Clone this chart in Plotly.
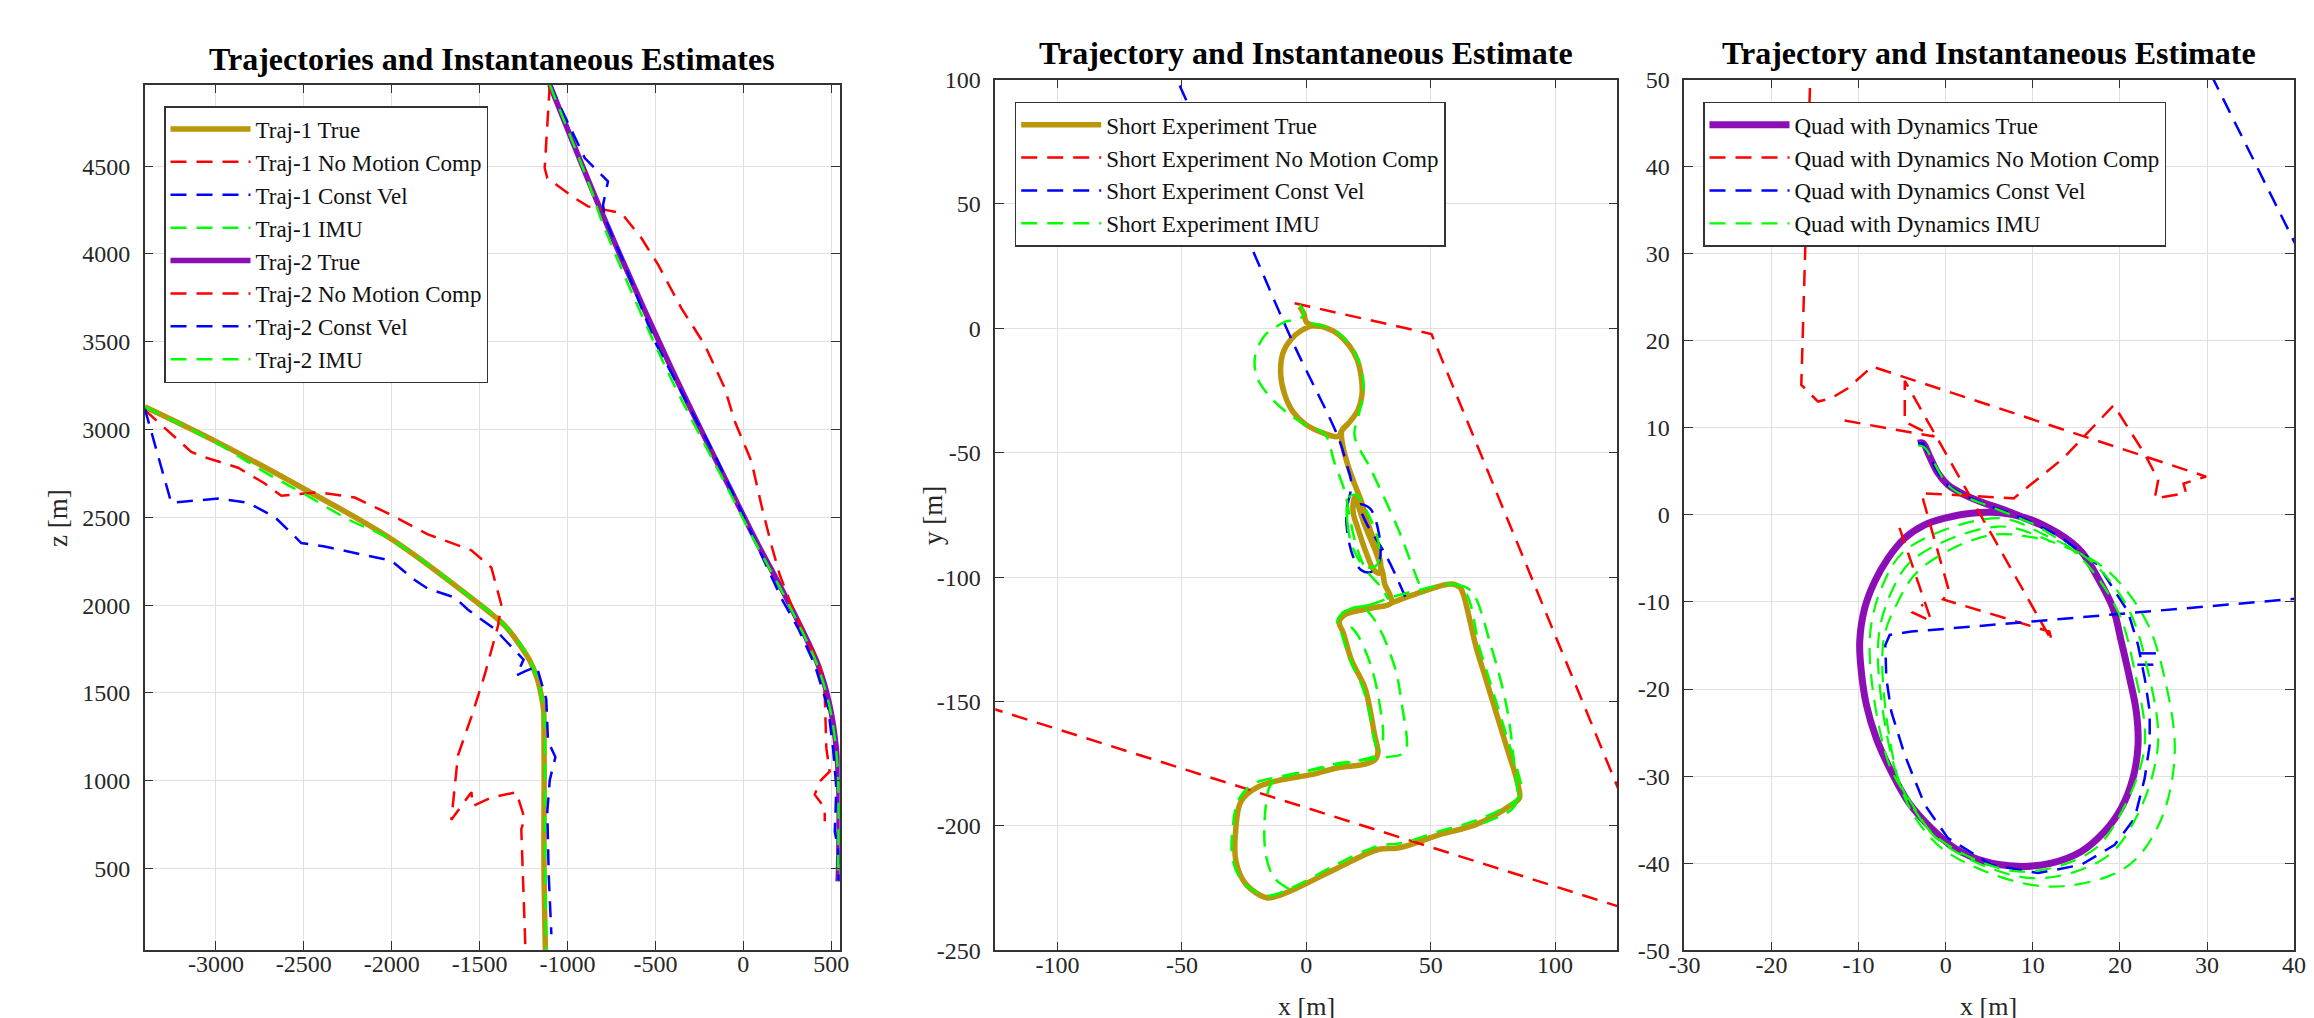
import plotly.graph_objects as go

W, H = 2314, 1018
FONT = "Liberation Serif"

# ---------------- DATA ----------------
# Panel 1 : Trajectories (x, z) in metres
T1_TRUE_X = [-3405, -3001, -2500, -1998, -1499, -1420, -1357, -1290, -1215, -1175, -1149, -1136, -1134, -1133, -1134, -1126]
T1_TRUE_Z = [3130, 2933, 2663, 2374, 2004, 1940, 1884, 1800, 1685, 1590, 1485, 1400, 1325, 1000, 526, 37]
T1_NOMC_X = [-3405, -3140, -3064, -2874, -2722, -2628, -2419, -2210, -2021, -1794, -1547, -1433, -1377, -1395, -1471, -1547, -1623, -1661, -1547, -1538, -1433, -1291, -1244, -1263, -1240]
T1_NOMC_Z = [3112, 2873, 2843, 2783, 2693, 2623, 2643, 2613, 2523, 2403, 2313, 2214, 2004, 1884, 1604, 1364, 1145, 778, 935, 857, 905, 935, 785, 725, 60]
T1_CV_X = [-3405, -3254, -2988, -2817, -2666, -2514, -2381, -2002, -1869, -1794, -1642, -1566, -1414, -1338, -1250, -1290, -1240, -1175, -1121, -1111, -1069, -1101, -1115, -1107, -1092]
T1_CV_Z = [3122, 2583, 2607, 2583, 2503, 2354, 2334, 2253, 2143, 2094, 2044, 1974, 1864, 1784, 1690, 1600, 1625, 1650, 1465, 1225, 1135, 1005, 825, 463, 126]
T1_IMU_X = [-3405, -3000, -2700, -2500, -2250, -2000, -1499, -1357, -1215, -1149, -1131, -1129, -1128, -1120]
T1_IMU_Z = [3130, 2925, 2745, 2635, 2490, 2372, 2004, 1884, 1690, 1490, 1325, 1000, 526, 40]

T2_TRUE_X = [-1101, -790, -410, -77, 84, 216, 330, 425, 491, 529, 543, 543, 539]
T2_TRUE_Z = [4964, 4200, 3350, 2667, 2344, 2097, 1870, 1661, 1433, 1186, 958, 580, 428]
T2_NOMC_X = [-1101, -1130, -1115, -959, -884, -694, -580, -485, -353, -220, -106, -49, 46, 102, 159, 207, 273, 349, 435, 463, 472, 491, 435, 406, 463, 463]
T2_NOMC_Z = [4964, 4490, 4432, 4318, 4271, 4233, 4091, 3939, 3692, 3483, 3236, 3047, 2819, 2572, 2344, 2173, 2002, 1831, 1661, 1490, 1186, 1053, 997, 921, 845, 769]
T2_CV_X = [-1101, -902, -770, -798, -788, -675, -504, -333, -163, -11, 122, 216, 311, 406, 482, 510, 529, 520, 539, 543]
T2_CV_Z = [4964, 4546, 4413, 4280, 4204, 3939, 3502, 3179, 2856, 2534, 2249, 2040, 1870, 1661, 1415, 1186, 958, 711, 616, 428]
T2_IMU_X = [-1101, -860, -810, -440, -90, 75, 210, 325, 420, 488, 527, 540, 540, 538]
T2_IMU_Z = [4964, 4350, 4200, 3350, 2667, 2344, 2097, 1870, 1661, 1433, 1186, 958, 580, 428]

# Panel 2 : Short Experiment (x, y) in metres
SE_TRUE_X = [-2.7, -1.0, 0.0, 2.7, 7.4, 12.7, 17.4, 20.5, 22.1, 22.4, 20.8, 17.4, 14.3, 12.7,
             6.0, -0.7, -5.4, -8.7, -10.3, -9.4, -6.1, -2.1, 2.7,
             7.4, 12.7, 17.4, 20.5, 22.1, 22.4, 20.8, 17.4, 14.3,
             14.7, 16.7, 19.4, 22.1, 24.1, 27.5, 29.9, 29.5, 27.2, 24.1, 20.8, 18.8, 19.4, 23.5, 28.1, 30.8, 31.5, 33.5, 34.2,
             26.1, 15.9, 13.2, 14.9, 18.1, 23.5, 25.5, 27.5, 28.8, 27.5, 23.1, 12.8, 2.5, -11.8, -20.0, -26.2, -28.3, -28.3,
             -24.2, -15.9, -11.8, -3.6, 12.8, 29.2, 37.4, 53.9, 68.3, 82.6, 85.7, 84.7, 80.6, 72.4, 68.3, 63.1, 61.7, 58.3, 43.6, 34.2]
SE_TRUE_Y = [8.7, 6.0, 2.5, 1.1, 0.4, -2.3, -7.2, -12.7, -19.7, -26.6, -32.8, -37.7, -41.1, -43.5,
             -41.8, -38.3, -33.5, -26.6, -18.3, -10.0, -4.4, -1.0, 1.1,
             0.4, -2.3, -7.2, -12.7, -19.7, -26.6, -32.8, -37.7, -41.1,
             -47.3, -55.0, -62.6, -69.5, -76.4, -86.2, -94.5, -98.4, -97.2, -90.3, -80.6, -73.7, -68.1, -79.2, -90.3, -98.6, -102.8, -106.9, -110.4,
             -112.5, -114.9, -118.0, -122.5, -133.2, -144.3, -152.6, -163.7, -170.5, -173.5, -175.3, -176.6, -179.3, -181.9, -184.6, -190.0, -200.7, -214.1,
             -223.5, -228.9, -228.2, -224.9, -216.8, -209.4, -208.8, -203.4, -199.4, -191.4, -188.7, -181.9, -168.5, -141.7, -128.3, -106.9, -104.1, -102.8, -106.9, -110.4]
SE_NOMC_X = [-4.7, 50.3, 147.7, -150.0]
SE_NOMC_Y = [10.1, -2.3, -239.4, -145.3]
SE_CV_X = [-50.9, -22.1, -5.7, 12.8, 16.1, 18.1, 16.1, 16.5, 18.8, 22.1, 26.1, 29.5, 28.8, 25.5, 21.5, 24.0, 31.5, 36.9, 40.2]
SE_CV_Y = [97.6, 32.6, -5.0, -43.8, -54.3, -62.6, -73.7, -82.0, -91.7, -97.2, -97.9, -93.1, -80.6, -72.3, -70.9, -78.0, -90.3, -101.4, -109.0]
SE_IMU_X = [-2.7, -1.0, -4.0, -8.1, -13.0, -16.8, -20.6, -19.8, -14.8, -7.4, 0.0, 7.4, 11.4, 15.4, 17.5, 20.0, 24.0, 30.0, 33.0, None,
            2.0, 8.0, 13.0, 18.0, 21.0, 22.8, 22.6, 21.0, 19.4, 26.1, 36.9, 42.2, 46.9, None,
            17.0, 16.5, 19.0, 24.0, 28.5, 29.0, 25.0, 20.0, 17.0, None,
            33.0, 26.0, 16.0, 12.5, 14.0, 17.5, 22.5, 25.0, 27.0, 28.0, 22.0, 12.0, 0.0, -12.0, -21.0, -27.0, -29.5, -29.5,
            -25.0, -16.0, -4.0, 12.0, 29.0, 38.0, 54.0, 69.0, 84.0, 86.5, 85.5, 81.5, 73.5, 69.5, 64.5, 60.0, 44.0, 33.0, None,
            60.0, 66.2, 74.4, 80.6, 83.7, 84.7, 82.6, 68.0, None,
            14.1, 22.0, 27.5, 35.5, 38.2, 40.2, 38.2, 32.9, 20.0, 5.0, -8.0, -14.0, -16.3, -16.3, -12.9, -6.7, None,
            18.0, 20.8, 26.1, 29.5, 30.8, 29.0]
SE_IMU_Y = [9.5, 5.5, 3.2, 2.8, 0.0, -3.0, -11.3, -19.7, -27.3, -34.2, -39.0, -42.5, -54.3, -65.4, -76.0, -87.0, -97.0, -104.0, -109.0, None,
            2.0, 0.5, -2.0, -7.5, -13.0, -20.0, -28.0, -35.0, -43.2, -57.0, -80.6, -94.5, -106.9, None,
            -68.0, -78.0, -89.0, -96.0, -95.0, -86.0, -75.0, -67.0, -68.0, None,
            -108.5, -111.0, -113.5, -117.5, -122.0, -133.0, -144.0, -153.0, -164.0, -171.0, -173.5, -175.0, -178.0, -180.5, -183.0, -189.0, -200.0, -214.0,
            -223.0, -228.0, -224.0, -215.5, -208.0, -207.0, -202.0, -197.5, -190.0, -186.0, -180.0, -167.0, -141.0, -128.0, -107.0, -103.0, -105.5, -108.5, None,
            -103.0, -105.5, -128.3, -152.5, -176.6, -190.0, -193.4, -200.0, None,
            -114.5, -112.0, -117.3, -136.0, -149.9, -169.3, -171.3, -172.3, -174.0, -177.0, -180.0, -183.0, -192.0, -211.5, -220.8, -225.5, None,
            -120.0, -123.5, -136.0, -151.2, -165.1, -170.0]

# Panel 3 : Quad with Dynamics (x, y) in metres
QD_TRUE_X = [-3.18, -2.61, -1.84, -0.88, 0.26, 2.18, 4.48, 6.77, 9.07, 11.37, 12.93, 15.57, 17.49, 19.21, 20.16, 21.12, 21.88, 22.08,
             21.50, 20.16, 18.25, 15.57, 12.12, 8.30, 4.48, 1.03, -1.65, -4.33, -6.25, -7.97, -9.11, -9.69, -9.87, -9.30, -8.15,
             -6.62, -4.71, -2.41, -0.11, 2.94, 6.77, 9.83, 12.93]
QD_TRUE_Y = [8.23, 8.23, 6.70, 4.79, 3.44, 2.30, 1.34, 0.57, -0.38, -1.34, -2.10, -4.20, -7.27, -10.71, -14.54, -18.75, -22.57, -26.41,
             -30.23, -33.67, -36.35, -38.65, -39.99, -40.36, -39.80, -38.27, -35.98, -32.90, -29.46, -25.64, -21.81, -17.98, -14.54, -10.71, -7.65,
             -4.97, -2.68, -1.15, -0.38, 0.20, 0.20, -0.57, -2.10]
QD_NOMC_X = [-15.5, -16.58, -16.58, -14.66, -13.13, -11.22, -8.45, 29.9, 27.3, 27.6, 24.0, 24.4, 22.9, 19.3, 13.5, 7.8, -2.8, 0.4, -0.3,
             11.9, 12.2, -4.7, -4.7, -1.3, -12.0, None, -5.3, -1.65, -3.8, -2.6]
QD_NOMC_Y = [52.0, 16.46, 14.93, 13.02, 13.40, 14.55, 17.04, 4.4, 3.6, 2.5, 1.9, 4.0, 6.9, 12.6, 6.5, 1.9, 2.5, -8.8, -9.7,
             -13.4, -14.5, 15.4, 10.7, 9.0, 10.9, None, -1.5, -12.2, -11.2, -10.3]
QD_CV_X = [-3.18, -2.6, -1.8, -0.8, 0.3, 2.2, 4.5, 6.8, 9.07, 13.0, 17.49, 20.93, 22.08, 22.85, 23.42, 23.42, 22.85, 21.70, 19.40,
           15.57, 10.6, 5.24, 0.26, -2.41, -4.71, -6.25, -6.82, -6.93, -6.43, -3.95, 9.83, 21.31, 40.5, None,
           30.5, 40.3, None, 22.3, 24.6, None, 22.0, 24.2]
QD_CV_Y = [8.2, 8.2, 6.6, 4.7, 3.3, 2.2, 1.2, 0.4, -0.5, -2.4, -5.74, -11.1, -14.93, -18.75, -22.57, -26.41, -30.23, -34.82, -37.89,
           -40.18, -41.13, -40.18, -37.12, -33.29, -27.56, -22.57, -18.75, -14.93, -13.78, -13.4, -12.25, -11.29, -9.6, None,
           50.5, 30.8, None, -15.9, -15.9, None, -17.2, -17.2]
QD_IMU_X = [-3.18, -2.5, -1.5, -0.5, 0.5, 2.5, 5.0, 8.0, 10.6, 15.57, 19.78, 21.70, 22.85, 20.5, 16.72, 8.30, -0.88, -4.0, -6.62,
            -8.73, -7.2, -4.33, 6.0, 11.37, 16.72, 20.93, 23.23, 24.37, 22.0, 18.25, 9.83, -0.11, -3.5, -5.86, -7.77, -6.3,
            -3.56, 6.0, 12.12, 18.25, 22.85, 25.14, 26.29, 24.5, 20.55, 11.37, 0.64, -3.0, -5.48, -7.2, -5.5, -2.8, 5.24, 12.12]
QD_IMU_Y = [8.0, 7.8, 6.3, 4.5, 3.2, 2.0, 1.0, -0.2, -1.34, -4.97, -11.1, -17.98, -26.41, -33.5, -38.65, -40.94, -37.12, -33.0, -28.31,
            -14.54, -8.0, -3.82, -0.38, -2.3, -5.35, -10.71, -17.98, -26.41, -34.5, -39.41, -41.71, -37.89, -34.0, -29.08, -14.93, -9.0,
            -4.97, -1.34, -3.05, -6.12, -11.86, -18.75, -27.56, -35.5, -40.56, -42.66, -39.04, -35.5, -30.23, -14.93, -10.0, -6.12, -2.3, -3.05]

# Tick values / labels
P1_XTICKS = [-3000, -2500, -2000, -1500, -1000, -500, 0, 500]
P1_YTICKS = [500, 1000, 1500, 2000, 2500, 3000, 3500, 4000, 4500]
P2_XTICKS = [-100, -50, 0, 50, 100]
P2_YTICKS = [-250, -200, -150, -100, -50, 0, 50, 100]
P3_XTICKS = [-30, -20, -10, 0, 10, 20, 30, 40]
P3_YTICKS = [-50, -40, -30, -20, -10, 0, 10, 20, 30, 40, 50]

# ---------------- STYLE ----------------
GOLD = "#B9960A"
PURPLE = "#8C0FB5"
RED = "#FF0000"
BLUE = "#0000FF"
GREEN = "#00FF00"
DASH = "16px,10px"
AXC = "#333333"
GRIDC = "#E1E1E1"


def lab(v):
    return [str(t) for t in v]


fig = go.Figure()


def add(x, y, name, color, width, dash, xa, ya, leg, shape="linear"):
    fig.add_trace(go.Scatter(
        x=x, y=y, name=name, mode="lines", xaxis=xa, yaxis=ya, legend=leg,
        line=dict(color=color, width=width, dash=dash, shape=shape),
        connectgaps=False, hoverinfo="skip"))


# panel 1
add(T1_TRUE_X, T1_TRUE_Z, "Traj-1 True", GOLD, 5.5, "solid", "x", "y", "legend", "spline")
add(T1_NOMC_X, T1_NOMC_Z, "Traj-1 No Motion Comp", RED, 2.5, DASH, "x", "y", "legend")
add(T1_CV_X, T1_CV_Z, "Traj-1 Const Vel", BLUE, 2.5, DASH, "x", "y", "legend")
add(T1_IMU_X, T1_IMU_Z, "Traj-1 IMU", GREEN, 2.5, DASH, "x", "y", "legend", "spline")
add(T2_TRUE_X, T2_TRUE_Z, "Traj-2 True", PURPLE, 5.5, "solid", "x", "y", "legend", "spline")
add(T2_NOMC_X, T2_NOMC_Z, "Traj-2 No Motion Comp", RED, 2.5, DASH, "x", "y", "legend")
add(T2_CV_X, T2_CV_Z, "Traj-2 Const Vel", BLUE, 2.5, DASH, "x", "y", "legend")
add(T2_IMU_X, T2_IMU_Z, "Traj-2 IMU", GREEN, 2.5, DASH, "x", "y", "legend", "spline")

# panel 2
add(SE_TRUE_X, SE_TRUE_Y, "Short Experiment True", GOLD, 5.5, "solid", "x2", "y2", "legend2", "spline")
add(SE_NOMC_X, SE_NOMC_Y, "Short Experiment No Motion Comp", RED, 2.5, DASH, "x2", "y2", "legend2")
add(SE_CV_X, SE_CV_Y, "Short Experiment Const Vel", BLUE, 2.5, DASH, "x2", "y2", "legend2", "spline")
add(SE_IMU_X, SE_IMU_Y, "Short Experiment IMU", GREEN, 2.5, DASH, "x2", "y2", "legend2", "spline")

# panel 3
add(QD_TRUE_X, QD_TRUE_Y, "Quad with Dynamics True", PURPLE, 7, "solid", "x3", "y3", "legend3", "spline")
add(QD_NOMC_X, QD_NOMC_Y, "Quad with Dynamics No Motion Comp", RED, 2.5, DASH, "x3", "y3", "legend3")
add(QD_CV_X, QD_CV_Y, "Quad with Dynamics Const Vel", BLUE, 2.5, DASH, "x3", "y3", "legend3")
add(QD_IMU_X, QD_IMU_Y, "Quad with Dynamics IMU", GREEN, 2.2, DASH, "x3", "y3", "legend3", "spline")


def axis(domain, rng, ticks, anchor, std):
    return dict(domain=domain, range=rng, anchor=anchor, tickvals=ticks, ticktext=lab(ticks),
                showgrid=True, gridcolor=GRIDC, gridwidth=1, zeroline=False,
                showline=True, linecolor=AXC, linewidth=1.5, mirror="ticks",
                ticks="inside", ticklen=9, tickwidth=1.3, tickcolor=AXC,
                tickfont=dict(family=FONT, size=24, color="#262626"),
                ticklabelstandoff=std, fixedrange=True)


def dx(a, b):
    return [a / W, b / W]


def dy(top, bot):
    return [1 - bot / H, 1 - top / H]


fig.update_layout(
    width=W, height=H, plot_bgcolor="white", paper_bgcolor="white",
    margin=dict(l=0, r=0, t=0, b=0, autoexpand=False),
    showlegend=True,
    xaxis=axis(dx(136.7, 831.7), [-3405, 548], P1_XTICKS, "y", -8),
    yaxis=axis(dy(76.7, 941.9), [37, 4964], P1_YTICKS, "x", 8),
    xaxis2=axis(dx(987.3, 1609.3), [-125, 125], P2_XTICKS, "y2", -8),
    yaxis2=axis(dy(71.5, 942.3), [-250, 100], P2_YTICKS, "x2", 8),
    xaxis3=axis(dx(1676.4, 2286.1), [-30, 40], P3_XTICKS, "y3", -8),
    yaxis3=axis(dy(71.5, 942.3), [-50, 50], P3_YTICKS, "x3", 8),
)

legend_style = dict(bgcolor="white", bordercolor=AXC, borderwidth=1.5,
                    font=dict(family=FONT, size=23, color="#111111"),
                    xanchor="left", yanchor="top", itemwidth=80, tracegroupgap=0)
fig.update_layout(
    legend=dict(x=156 / W, y=1 - 98 / H, **legend_style),
    legend2=dict(x=1006.7 / W, y=1 - 93.7 / H, **legend_style),
    legend3=dict(x=1695 / W, y=1 - 93.7 / H, **legend_style),
)

ann = []
TITLE_FONT = dict(family=FONT, size=32, color="black")
LABEL_FONT = dict(family=FONT, size=26, color="#262626")
ann.append(dict(text="<b>Trajectories and Instantaneous Estimates</b>", x=484 / W, y=1 - 51 / H,
                xref="paper", yref="paper", showarrow=False, font=TITLE_FONT, xanchor="center", yanchor="middle"))
ann.append(dict(text="<b>Trajectory and Instantaneous Estimate</b>", x=1298 / W, y=1 - 45 / H,
                xref="paper", yref="paper", showarrow=False, font=TITLE_FONT, xanchor="center", yanchor="middle"))
ann.append(dict(text="<b>Trajectory and Instantaneous Estimate</b>", x=1981 / W, y=1 - 45 / H,
                xref="paper", yref="paper", showarrow=False, font=TITLE_FONT, xanchor="center", yanchor="middle"))
ann.append(dict(text="z [m]", x=50 / W, y=1 - 510 / H, xref="paper", yref="paper", showarrow=False,
                font=dict(family=FONT, size=27, color="#262626"), textangle=-90, xanchor="center", yanchor="middle"))
ann.append(dict(text="y [m]", x=925 / W, y=1 - 508 / H, xref="paper", yref="paper", showarrow=False,
                font=dict(family=FONT, size=27, color="#262626"), textangle=-90, xanchor="center", yanchor="middle"))
ann.append(dict(text="x [m]", x=1298 / W, y=1 - 998 / H, xref="paper", yref="paper", showarrow=False,
                font=LABEL_FONT, xanchor="center", yanchor="middle"))
ann.append(dict(text="x [m]", x=1981 / W, y=1 - 998 / H, xref="paper", yref="paper", showarrow=False,
                font=LABEL_FONT, xanchor="center", yanchor="middle"))
fig.update_layout(annotations=ann)

fig.write_html("out.html")
